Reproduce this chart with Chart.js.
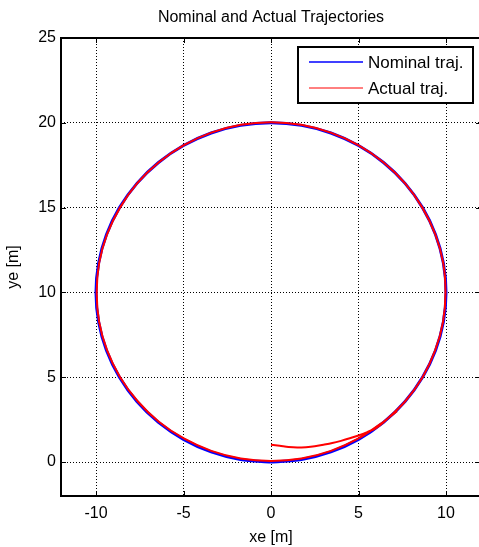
<!DOCTYPE html>
<html>
<head>
<meta charset="utf-8">
<script src="https://cdn.jsdelivr.net/npm/chart.js@4.4.1/dist/chart.umd.min.js"></script>
<style>
  html, body { margin: 0; padding: 0; background: #fff; overflow: hidden; }
  #wrap { width: 479px; height: 547px; overflow: hidden; }
  #wrap canvas { display: block; }
</style>
</head>
<body>
<div id="wrap"><canvas id="traj" width="490" height="547"></canvas></div>
<script>
// nominal path (circle about (0,10), r = 10)
const nominalX = [0, 1.74, 3.42, 5.00, 6.43, 7.66, 8.66, 9.40, 9.85, 10.00, 9.85, 9.40, 8.66, 7.66, 6.43, 5.00, 3.42, 1.74,
    0, -1.74, -3.42, -5.00, -6.43, -7.66, -8.66, -9.40, -9.85, -10.00, -9.85, -9.40, -8.66, -7.66, -6.43, -5.00, -3.42, -1.74, 0];
const nominalY = [0, 0.15, 0.60, 1.34, 2.34, 3.57, 5.00, 6.58, 8.26, 10.00, 11.74, 13.42, 15.00, 16.43, 17.66, 18.66, 19.40, 19.85,
    20.00, 19.85, 19.40, 18.66, 17.66, 16.43, 15.00, 13.42, 11.74, 10.00, 8.26, 6.58, 5.00, 3.57, 2.34, 1.34, 0.60, 0.15, 0];

// measured path, starts at (0,1) and settles onto the circle
const actualX = [0, 0.5, 1.0, 1.5, 2.0, 2.5, 3.0, 3.5, 4.0, 4.5, 5.0, 5.5, 6.0, 6.45, 7.66, 8.66, 9.38, 9.83, 9.97, 9.84, 9.39, 8.65,
    7.65, 6.42, 4.99, 3.41, 1.73, 0, -1.73, -3.41, -4.98, -6.41, -7.64, -8.63, -9.37, -9.82, -9.96, -9.82, -9.37, -8.63,
    -7.63, -6.41, -4.98, -3.41, -1.73, 0, 1.74, 3.42, 5.00, 6.43, 7.2];
const actualY = [1.02, 0.96, 0.89, 0.86, 0.88, 0.93, 1.02, 1.12, 1.25, 1.40, 1.57, 1.77, 2.00, 2.36, 3.57, 5.00, 6.58, 8.26, 10.00,
    11.74, 13.42, 15.00, 16.44, 17.67, 18.68, 19.42, 19.88, 20.04, 19.88, 19.42, 18.68, 17.67, 16.44, 15.00, 13.42, 11.74,
    10.00, 8.26, 6.60, 5.02, 3.60, 2.38, 1.39, 0.66, 0.21, 0.07, 0.21, 0.66, 1.39, 2.38, 3.0];

const xTicks = [-10, -5, 0, 5, 10];
const yTicks = [0, 5, 10, 15, 20, 25];

const FONT = 'Liberation Sans, Arial, sans-serif';

function pts(xs, ys) {
    return xs.map(function (x, i) { return { x: x, y: ys[i] }; });
}

// box, inward ticks, title and in-plot legend in MATLAB style
const matlabFrame = {
    id: 'matlabFrame',
    afterDraw: function (chart) {
        const c = chart.ctx;
        const a = chart.chartArea;
        const sx = chart.scales.x, sy = chart.scales.y;
        c.save();
        c.strokeStyle = '#000';
        c.lineWidth = 1;
        xTicks.forEach(function (v) {
            const px = Math.round(sx.getPixelForValue(v)) + 0.5;
            c.beginPath();
            c.moveTo(px, a.top); c.lineTo(px, a.top + 5);
            c.moveTo(px, a.bottom); c.lineTo(px, a.bottom - 5);
            c.stroke();
        });
        yTicks.forEach(function (v) {
            const py = Math.round(sy.getPixelForValue(v)) + 0.5;
            c.beginPath();
            c.moveTo(a.left, py); c.lineTo(a.left + 5, py);
            c.moveTo(a.right, py); c.lineTo(a.right - 5, py);
            c.stroke();
        });
        c.lineWidth = 2;
        c.strokeRect(a.left, a.top, a.right - a.left, a.bottom - a.top);

        // title
        c.fillStyle = '#000';
        c.font = '16px ' + FONT;
        c.textAlign = 'center';
        c.textBaseline = 'middle';
        c.fillText('Nominal and Actual Trajectories', (a.left + a.right) / 2, 18);

        // legend
        const lx = 298, ly = 47, lw = 175, lh = 56;
        c.fillStyle = '#fff';
        c.fillRect(lx, ly, lw, lh);
        c.lineWidth = 2;
        c.strokeRect(lx, ly, lw, lh);
        c.font = '17px ' + FONT;
        c.textAlign = 'left';
        chart.data.datasets.forEach(function (ds, i) {
            const yy = ly + 15 + i * 26;
            c.strokeStyle = ds.borderColor;
            c.lineWidth = i === 0 ? 1.5 : 1;
            c.beginPath();
            c.moveTo(lx + 11, yy); c.lineTo(lx + 65, yy);
            c.stroke();
            c.fillStyle = '#000';
            c.fillText(ds.label, lx + 70, yy + 1);
        });
        c.restore();
    }
};

const chart = new Chart(document.getElementById('traj').getContext('2d'), {
    type: 'scatter',
    data: {
        datasets: [{
            label: 'Nominal traj.',
            data: pts(nominalX, nominalY),
            showLine: true,
            borderColor: '#0000ff',
            borderWidth: 3,
            pointRadius: 0,
            tension: 0.3,
            order: 1
        }, {
            label: 'Actual traj.',
            data: pts(actualX, actualY),
            showLine: true,
            borderColor: '#ff0000',
            borderWidth: 2,
            pointRadius: 0,
            tension: 0.3,
            order: -1
        }]
    },
    options: {
        responsive: false,
        animation: false,
        layout: { padding: { top: 38, right: 9, left: 0, bottom: 0 } },
        plugins: {
            legend: { display: false },
            title: { display: false },
            tooltip: { enabled: false }
        },
        scales: {
            x: {
                type: 'linear',
                min: -12,
                max: 12,
                afterBuildTicks: function (s) { s.ticks = xTicks.map(function (v) { return { value: v }; }); },
                afterFit: function (s) { s.height = 51; },
                grid: { color: '#000', lineWidth: 1, tickLength: 0 },
                border: { display: false, dash: [1, 2] },
                ticks: { color: '#000', font: { family: FONT, size: 16 }, padding: 8, maxRotation: 0 },
                title: { display: true, text: 'xe [m]', color: '#000', font: { family: FONT, size: 16 }, padding: { top: 0, bottom: 0 } }
            },
            y: {
                type: 'linear',
                min: -2,
                max: 25,
                afterBuildTicks: function (s) { s.ticks = yTicks.map(function (v) { return { value: v }; }); },
                afterFit: function (s) { s.width = 61; },
                grid: { color: '#000', lineWidth: 1, tickLength: 0 },
                border: { display: false, dash: [1, 2] },
                ticks: { color: '#000', font: { family: FONT, size: 16 }, padding: 5 },
                title: { display: true, text: 'ye [m]', color: '#000', font: { family: FONT, size: 16 }, padding: { top: 4, bottom: 0 } }
            }
        }
    },
    plugins: [matlabFrame]
});
</script>
</body>
</html>
